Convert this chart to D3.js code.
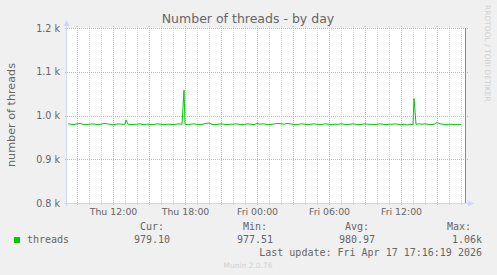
<!DOCTYPE html>
<html>
<head>
<meta charset="utf-8">
<script src="https://cdn.jsdelivr.net/npm/d3@7"></script>
<style>
  body { margin: 0; background: #f0f0f0; }
  text { font-family: "DejaVu Sans", sans-serif; fill: #666; }
  .mono { font-family: "DejaVu Sans Mono", monospace; font-size: 10px; }
</style>
</head>
<body>
<script>
// samples every 15 minutes, from Thu 08:15 to Fri 17:15 (UTC)
const seriesStart = "2026-04-16T08:15";
const stepMinutes = 15;
const threads = [
  981, 980, 979, 981, 982, 980, 979, 980, 981, 980, 979, 980, 982, 981, 980, 979, 980, 981, 980,
  980,
  980, 979, 980, 980, 981, 979, 980, 980, 979, 980, 981, 980, 979, 980, 980, 979, 980, 981, 980,
  980,
  979, 980, 981, 980, 979, 980, 982, 983, 980, 979, 980, 981, 980, 979, 980, 980, 981, 980, 979, 980, 981, 980, 979,
  982, 980, 981, 980, 979, 980, 981, 982, 981, 980, 982, 981, 980, 979, 980, 981, 980, 979, 980, 981, 980, 979, 980,
  981, 980, 979, 980, 980, 981, 980, 979, 980, 981, 980, 979, 980, 981, 980, 980, 979, 980, 981, 980, 979, 980, 980,
  981, 980, 979, 980, 978,
  980,
  979, 980, 981, 980, 981, 980, 979, 980, 984, 981, 980, 979, 980, 980, 979, 980, 979
];
// short peaks sampled between the regular points
const peaks = [
  ["2026-04-16T13:05", 990],
  ["2026-04-16T17:55", 1058],
  ["2026-04-17T13:05", 1039]
];

const yTicks = [800, 900, 1000, 1100, 1200];
const yTickLabels = ["0.8 k", "0.9 k", "1.0 k", "1.1 k", "1.2 k"];
const xLabelTimes = ["2026-04-16T12:00", "2026-04-16T18:00", "2026-04-17T00:00", "2026-04-17T06:00", "2026-04-17T12:00"];
const xLabelText = ["Thu 12:00", "Thu 18:00", "Fri 00:00", "Fri 06:00", "Fri 12:00"];

const legendHeads = ["Cur:", "Min:", "Avg:", "Max:"];
const legendValues = ["979.10", "977.51", "980.97", "1.06k"];

const parse = d3.utcParse("%Y-%m-%dT%H:%M");
const t0 = parse(seriesStart);
let data = threads.map((v, i) => ({ t: d3.utcMinute.offset(t0, i * stepMinutes), v: v }));
peaks.forEach(p => data.push({ t: parse(p[0]), v: p[1] }));
data.sort((a, b) => a.t - b.t);

const W = 497, H = 275;
const pLeft = 67, pRight = 465, pTop = 28, pBottom = 203;

const x = d3.scaleUtc()
  .domain([parse("2026-04-16T08:10"), parse("2026-04-17T17:20")])
  .range([pLeft, pRight]);
const y = d3.scaleLinear().domain([800, 1200]).range([pBottom, pTop]);

const svg = d3.select("body").append("svg")
  .attr("width", W).attr("height", H);

svg.append("rect").attr("width", W).attr("height", H).attr("fill", "#f0f0f0");
svg.append("rect")
  .attr("x", pLeft).attr("y", pTop)
  .attr("width", pRight - pLeft).attr("height", pBottom - pTop)
  .attr("fill", "#fff");

// minor vertical grid (every hour)
const hours = d3.utcHour.range(x.domain()[0], x.domain()[1]);
svg.append("g").selectAll("line")
  .data(hours.filter(d => d.getUTCHours() % 3 !== 0))
  .enter().append("line")
  .attr("x1", d => Math.round(x(d)) + 0.5).attr("x2", d => Math.round(x(d)) + 0.5)
  .attr("y1", pTop - 2).attr("y2", pBottom + 2)
  .attr("stroke", "#d4d4d4").attr("stroke-dasharray", "1,1");

// major vertical grid (every 3 hours)
svg.append("g").selectAll("line")
  .data(hours.filter(d => d.getUTCHours() % 3 === 0))
  .enter().append("line")
  .attr("x1", d => Math.round(x(d)) + 0.5).attr("x2", d => Math.round(x(d)) + 0.5)
  .attr("y1", pTop - 2).attr("y2", pBottom + 3)
  .attr("stroke", "#e8a8a8").attr("stroke-dasharray", "1,1");

// horizontal grid
svg.append("g").selectAll("line")
  .data(yTicks.filter(d => d > 800))
  .enter().append("line")
  .attr("x1", pLeft - 2).attr("x2", pRight + 3)
  .attr("y1", d => Math.round(y(d)) + 0.5).attr("y2", d => Math.round(y(d)) + 0.5)
  .attr("stroke", "#e8a8a8").attr("stroke-dasharray", "1,1");

// y tick labels
const yAxis = svg.append("g")
  .attr("transform", `translate(${pLeft - 2},0)`)
  .call(d3.axisLeft(y).tickValues(yTicks).tickSize(0).tickPadding(5)
    .tickFormat((d, i) => yTickLabels[i]));
yAxis.select(".domain").remove();
yAxis.selectAll("text")
  .style("font-family", "DejaVu Sans, sans-serif")
  .style("font-size", "9.6px")
  .attr("fill", "#666");

// x tick labels
const xAxis = svg.append("g")
  .attr("transform", `translate(0,${pBottom})`)
  .call(d3.axisBottom(x).tickValues(xLabelTimes.map(parse)).tickSize(0).tickPadding(5)
    .tickFormat((d, i) => xLabelText[i]));
xAxis.select(".domain").remove();
xAxis.selectAll("text")
  .style("font-family", "DejaVu Sans, sans-serif")
  .style("font-size", "9.4px")
  .attr("fill", "#666");

// data line
const line = d3.line().x(d => x(d.t)).y(d => y(d.v));
svg.append("path")
  .datum(data)
  .attr("d", line)
  .attr("fill", "none")
  .attr("stroke", "#00cc00")
  .attr("stroke-width", 1);

// axes with arrows
const axisColor = "#cfd6f8";
svg.append("line")
  .attr("x1", pLeft - 0.5).attr("x2", pLeft - 0.5)
  .attr("y1", pBottom + 3).attr("y2", pTop - 4)
  .attr("stroke", axisColor);
svg.append("path")
  .attr("d", `M${pLeft - 3.5},${pTop - 2} L${pLeft - 0.5},${pTop - 8} L${pLeft + 2.5},${pTop - 2} Z`)
  .attr("fill", axisColor);
svg.append("line")
  .attr("x1", pLeft - 3).attr("x2", pRight + 5)
  .attr("y1", pBottom + 0.5).attr("y2", pBottom + 0.5)
  .attr("stroke", axisColor);
svg.append("path")
  .attr("d", `M${pRight + 3},${pBottom - 2.5} L${pRight + 9},${pBottom + 0.5} L${pRight + 3},${pBottom + 3.5} Z`)
  .attr("fill", axisColor);

// right edge line
svg.append("line")
  .attr("x1", pRight + 0.5).attr("x2", pRight + 0.5)
  .attr("y1", pTop).attr("y2", pBottom)
  .attr("stroke", "#8a8a8a");

// title
svg.append("text")
  .attr("x", 248).attr("y", 23)
  .attr("text-anchor", "middle")
  .style("font-size", "12.5px")
  .text("Number of threads - by day");

// vertical axis label
svg.append("text")
  .attr("transform", "translate(15,115) rotate(-90)")
  .attr("text-anchor", "middle")
  .style("font-size", "11.2px")
  .text("number of threads");

// rrdtool credit
svg.append("text")
  .attr("transform", "translate(485,5) rotate(90)")
  .style("font-size", "7.5px")
  .style("fill", "#d0d0d0")
  .text("RRDTOOL / TOBI OETIKER");

// legend
svg.append("rect")
  .attr("x", 14).attr("y", 237).attr("width", 6).attr("height", 6)
  .attr("fill", "#00cc00");
svg.append("text").attr("class", "mono")
  .attr("x", 27).attr("y", 243).text("threads");

const headX = [140, 243, 345, 447];
const valEnd = [170, 273, 375, 482];
svg.selectAll(".head").data(legendHeads).enter().append("text")
  .attr("class", "mono head")
  .attr("x", (d, i) => headX[i]).attr("y", 230)
  .text(d => d);
svg.selectAll(".val").data(legendValues).enter().append("text")
  .attr("class", "mono val")
  .attr("x", (d, i) => valEnd[i]).attr("y", 243)
  .attr("text-anchor", "end")
  .text(d => d);

svg.append("text").attr("class", "mono")
  .attr("x", 482).attr("y", 256)
  .attr("text-anchor", "end")
  .text("Last update: Fri Apr 17 17:16:19 2026");

svg.append("text")
  .attr("x", 248).attr("y", 268)
  .attr("text-anchor", "middle")
  .style("font-size", "7.5px")
  .style("fill", "#d0d0d0")
  .text("Munin 2.0.76");
</script>
</body>
</html>
